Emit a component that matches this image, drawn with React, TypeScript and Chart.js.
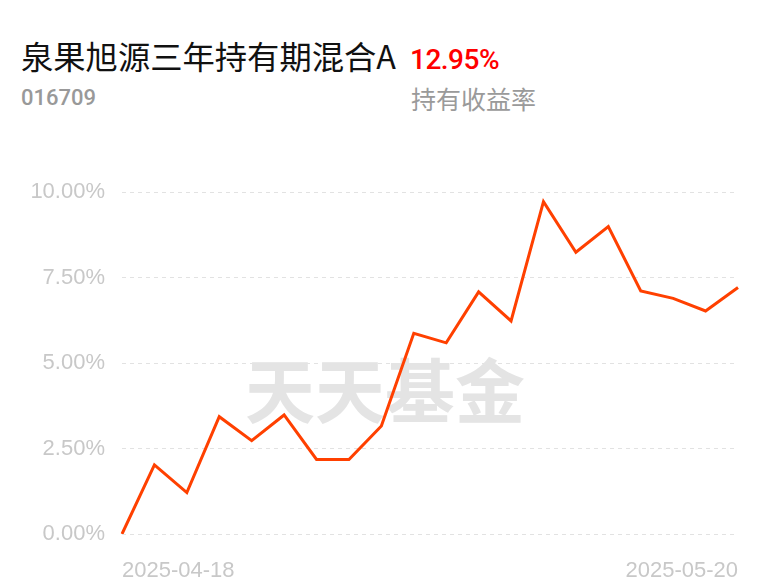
import React, { useEffect, useRef } from "react";
import { Chart, registerables } from "chart.js";

Chart.register(...registerables);

const fundName = "泉果旭源三年持有期混合A";
const fundCode = "016709";
const holdReturn = "12.95%";
const holdReturnLabel = "持有收益率";
const watermark = "天天基金";

const dates = [
  "2025-04-18", "2025-04-21", "2025-04-22", "2025-04-23", "2025-04-24",
  "2025-04-25", "2025-04-28", "2025-04-29", "2025-04-30", "2025-05-06",
  "2025-05-07", "2025-05-08", "2025-05-09", "2025-05-12", "2025-05-13",
  "2025-05-14", "2025-05-15", "2025-05-16", "2025-05-19", "2025-05-20",
];
const returns = [
  0, 2.02, 1.21, 3.43, 2.73, 3.48, 2.18, 2.18, 3.16, 5.87,
  5.59, 7.08, 6.23, 9.72, 8.24, 8.99, 7.11, 6.89, 6.52, 7.21,
];
const yTicks = [0, 2.5, 5, 7.5, 10];

const watermarkPlugin = {
  id: "watermark",
  beforeDatasetsDraw(chart: any) {
    const { ctx, chartArea } = chart;
    ctx.save();
    ctx.font = '700 70px "Noto Sans CJK SC"';
    ctx.fillStyle = "#e4e4e4";
    ctx.textAlign = "center";
    ctx.textBaseline = "middle";
    ctx.fillText(watermark, (chartArea.left + chartArea.right) / 2 - 45, chartArea.top + 199);
    ctx.restore();
  },
};

export default function App() {
  const ref = useRef<HTMLCanvasElement>(null);
  useEffect(() => {
    const chart = new Chart(ref.current!, {
      type: "line",
      data: {
        labels: dates,
        datasets: [
          {
            data: returns,
            borderColor: "#ff4000",
            borderWidth: 3,
            pointRadius: 0,
            pointHoverRadius: 0,
            tension: 0,
            fill: false,
          },
        ],
      },
      options: {
        animation: false,
        responsive: false,
        events: [],
        layout: { padding: { top: 42, right: 30, left: 0, bottom: 0 } },
        plugins: { legend: { display: false }, tooltip: { enabled: false } },
        scales: {
          x: {
            type: "category",
            offset: false,
            grid: { display: false },
            border: { display: false },
            afterFit(scale: any) {
              scale.height = 51;
            },
            ticks: {
              autoSkip: false,
              maxRotation: 0,
              minRotation: 0,
              align: "inner",
              padding: 16,
              color: "#c8c8c8",
              font: { family: '"Liberation Sans", Arial, sans-serif', size: 22 },
              callback: (_v: any, i: number) =>
                i === 0 || i === dates.length - 1 ? dates[i] : "",
            },
          },
          y: {
            min: 0,
            max: 10,
            afterFit(scale: any) {
              scale.width = 122;
            },
            afterBuildTicks(scale: any) {
              scale.ticks = yTicks.map((v) => ({ value: v }));
            },
            grid: {
              color: "#e2e2e2",
              lineWidth: 1,
              drawTicks: false,
            },
            border: { display: false, dash: [4, 4] },
            ticks: {
              padding: 17,
              color: "#c8c8c8",
              font: { family: '"Liberation Sans", Arial, sans-serif', size: 22 },
              callback: (v: any) => Number(v).toFixed(2) + "%",
            },
          },
        },
      },
      plugins: [watermarkPlugin],
    });
    return () => chart.destroy();
  }, []);

  const base: React.CSSProperties = { position: "absolute", lineHeight: 1, whiteSpace: "nowrap" };
  return (
    <div style={{ position: "fixed", left: 0, top: 0, width: 768, height: 585, background: "#fff", overflow: "hidden" }}>
      <div style={{ ...base, left: 21, top: 39, fontSize: 32.3, color: "#111", fontFamily: '"Noto Sans CJK SC", sans-serif' }}>{fundName}</div>
      <div style={{ ...base, left: 410, top: 46, fontSize: 28, color: "#ff0000", fontWeight: 500, fontFamily: "Roboto, sans-serif", letterSpacing: -0.5 }}>{holdReturn}</div>
      <div style={{ ...base, left: 21, top: 87, fontSize: 22, color: "#999", fontWeight: 500, fontFamily: "Roboto, sans-serif" }}>{fundCode}</div>
      <div style={{ ...base, left: 411, top: 86, fontSize: 25, color: "#9a9a9a", fontFamily: '"Noto Sans CJK SC", sans-serif' }}>{holdReturnLabel}</div>
      <canvas ref={ref} width={768} height={435} style={{ position: "absolute", left: 0, top: 150, width: 768, height: 435 }} />
    </div>
  );
}
